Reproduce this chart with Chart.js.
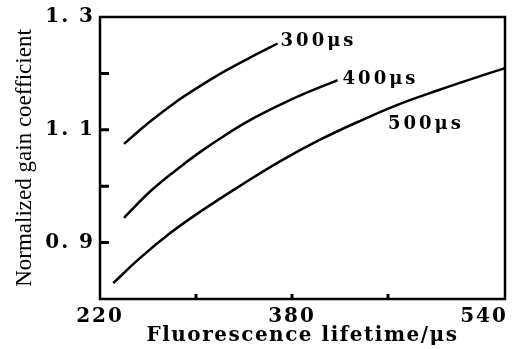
<!DOCTYPE html>
<html>
<head>
<meta charset="utf-8">
<script src="https://cdn.jsdelivr.net/npm/chart.js@4.4.1/dist/chart.umd.min.js"></script>
<style>
  html, body { margin: 0; padding: 0; background: #fff; }
  #wrap { width: 526px; height: 349px; }
</style>
</head>
<body>
<div id="wrap"><canvas id="chart"></canvas></div>
<script>
// Points (fluorescence lifetime in µs, normalized gain)
const lifetime300 = [240, 262, 283, 303, 324, 345, 368];
const gain300 = [1.075, 1.115, 1.149, 1.177, 1.204, 1.228, 1.253];

const lifetime400 = [240, 262, 283, 303, 324, 345, 366, 387, 418];
const gain400 = [0.944, 0.991, 1.028, 1.060, 1.090, 1.117, 1.140, 1.161, 1.188];

const lifetime500 = [231, 253, 278, 303, 337, 370, 403, 437, 470, 503, 528, 557];
const gain500 = [0.828, 0.872, 0.916, 0.954, 1.001, 1.044, 1.082, 1.116, 1.146, 1.171, 1.189, 1.209];

const seriesNames = ['300μs', '400μs', '500μs'];

// axis ticks
const xTicks = [220, 300, 380, 460, 540];
const xTickLabels = [220, 380, 540];
const xMarks = [300, 380, 460];
const yTicks = [0.8, 0.9, 1.0, 1.1, 1.2, 1.3];
const yTickLabels = [0.9, 1.1, 1.3];
const yMarks = [0.9, 1.0, 1.1, 1.2];

const toPoints = (xs, ys) => xs.map((x, i) => ({ x: x, y: ys[i] }));

const tickFont = { family: '"DejaVu Serif"', size: 20, weight: 'bold' };

// frame around the plot and the small inward tick marks
const frameAndMarks = {
  id: 'frameAndMarks',
  afterDatasetsDraw(chart) {
    const { ctx, chartArea: a, scales } = chart;
    ctx.save();
    ctx.strokeStyle = '#000';
    ctx.lineWidth = 2.5;
    ctx.strokeRect(a.left, a.top, a.right - a.left, a.bottom - a.top);
    ctx.lineWidth = 3;
    ctx.beginPath();
    xMarks.forEach((v) => {
      const px = scales.x.getPixelForValue(v);
      ctx.moveTo(px, a.bottom);
      ctx.lineTo(px, a.bottom - 5);
    });
    yMarks.forEach((v) => {
      const py = scales.y.getPixelForValue(v);
      ctx.moveTo(a.left, py);
      ctx.lineTo(a.left + 9, py);
    });
    ctx.stroke();
    ctx.restore();
  },
};

// the old figure uses widely spaced lettering on the axes
const spacedText = {
  id: 'spacedText',
  beforeDraw(chart) {
    const wrap = (scale, fn, spacing) => {
      const orig = scale[fn];
      if (orig._spaced) return;
      const wrapped = function (...args) {
        this.ctx.save();
        this.ctx.letterSpacing = spacing;
        orig.apply(this, args);
        this.ctx.restore();
      };
      wrapped._spaced = true;
      scale[fn] = wrapped;
    };
    wrap(chart.scales.x, 'drawLabels', '2px');
    wrap(chart.scales.y, 'drawLabels', '2px');
    wrap(chart.scales.x, 'drawTitle', '1.5px');
  },
};

// curve names written next to each line
const curveLabels = {
  id: 'curveLabels',
  afterDatasetsDraw(chart) {
    const { ctx, scales } = chart;
    ctx.save();
    ctx.font = 'bold 18px "DejaVu Serif"';
    ctx.letterSpacing = '3px';
    ctx.fillStyle = '#000';
    ctx.textAlign = 'left';
    ctx.textBaseline = 'middle';
    chart.data.datasets.forEach((ds) => {
      const p = ds.labelAt || ds.data[ds.data.length - 1];
      const px = scales.x.getPixelForValue(p.x) + (ds.labelDx || 0);
      const py = scales.y.getPixelForValue(p.y) + (ds.labelDy || 0);
      ctx.fillText(ds.label, px, py);
    });
    ctx.restore();
  },
};

const lineStyle = {
  borderColor: '#000',
  borderWidth: 2.5,
  pointRadius: 0,
  fill: false,
  tension: 0.4,
};

new Chart(document.getElementById('chart'), {
  type: 'line',
  data: {
    datasets: [
      { ...lineStyle, label: seriesNames[0], data: toPoints(lifetime300, gain300), labelDx: 3, labelDy: -2 },
      { ...lineStyle, label: seriesNames[1], data: toPoints(lifetime400, gain400), labelDx: 5, labelDy: -1 },
      { ...lineStyle, label: seriesNames[2], data: toPoints(lifetime500, gain500), labelAt: { x: 460, y: 1.11 } },
    ],
  },
  options: {
    responsive: true,
    maintainAspectRatio: false,
    animation: false,
    layout: { padding: { top: 14, right: 21, left: 0, bottom: 0 } },
    plugins: {
      legend: { display: false },
      tooltip: { enabled: false },
    },
    scales: {
      x: {
        type: 'linear',
        min: 220,
        max: 557.5,
        afterBuildTicks: (scale) => {
          scale.ticks = xTicks.map((v) => ({ value: v }));
        },
        afterFit: (scale) => {
          scale.height = 50;
        },
        ticks: {
          autoSkip: false,
          maxRotation: 0,
          padding: 6,
          color: '#000',
          font: tickFont,
          callback: (v) => (xTickLabels.includes(v) ? String(v) : ''),
        },
        grid: { display: false, drawTicks: false },
        border: { display: false },
        title: {
          display: true,
          text: 'Fluorescence lifetime/μs',
          color: '#000',
          font: { family: '"DejaVu Serif"', size: 20, weight: 'bold' },
          padding: { top: 0, bottom: 1 },
        },
      },
      y: {
        min: 0.8,
        max: 1.3,
        afterBuildTicks: (scale) => {
          scale.ticks = yTicks.map((v) => ({ value: v }));
        },
        afterFit: (scale) => {
          scale.width = 100;
        },
        ticks: {
          autoSkip: false,
          padding: 5,
          color: '#000',
          font: tickFont,
          callback: (v) =>
            yTickLabels.some((t) => Math.abs(t - v) < 1e-9) ? v.toFixed(1).replace('.', '. ') : '',
        },
        grid: { display: false, drawTicks: false },
        border: { display: false },
        title: {
          display: true,
          text: 'Normalized gain coefficient',
          color: '#000',
          font: { family: '"Liberation Serif"', size: 23 },
          padding: { top: 11, bottom: 0 },
        },
      },
    },
  },
  plugins: [spacedText, frameAndMarks, curveLabels],
});
</script>
</body>
</html>
